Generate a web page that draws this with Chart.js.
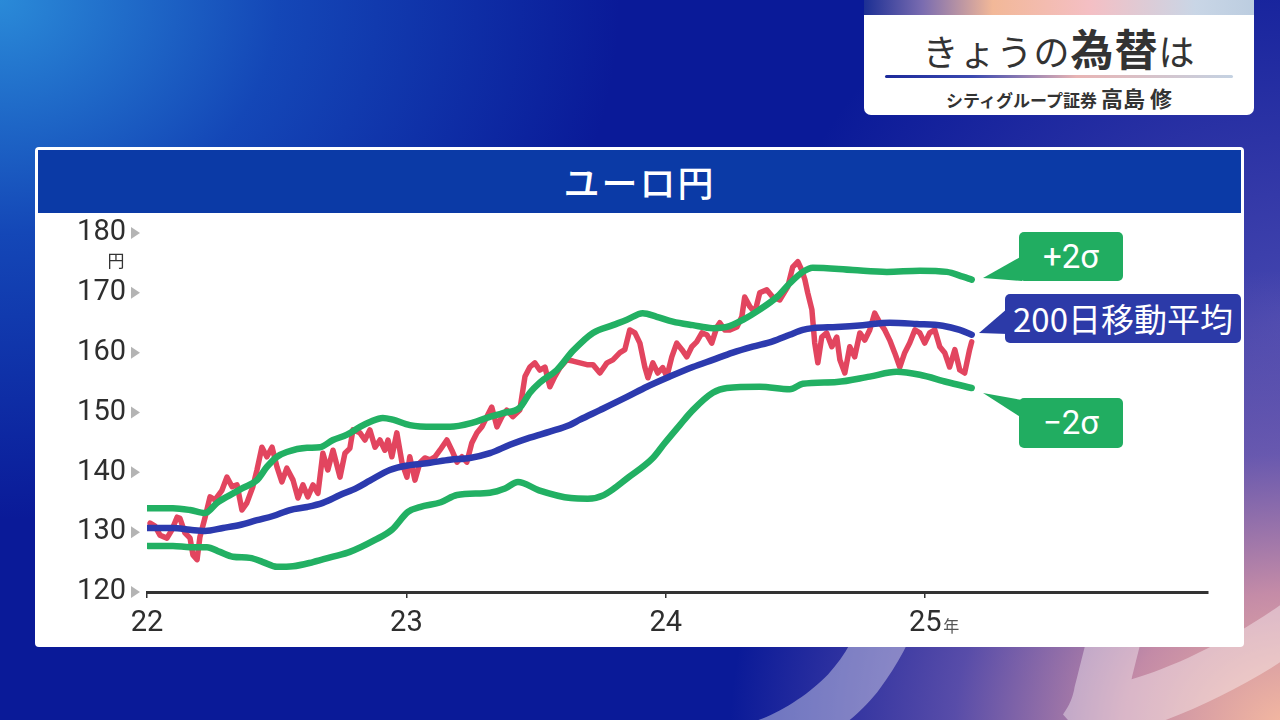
<!DOCTYPE html>
<html><head><meta charset="utf-8">
<script src="https://cdn.jsdelivr.net/npm/chart.js@4.4.1/dist/chart.umd.min.js"></script>
<style>
html,body{margin:0;padding:0;}
body{width:1280px;height:720px;overflow:hidden;position:relative;font-family:"Noto Sans CJK JP","Noto Sans",sans-serif;
background:
 radial-gradient(ellipse 560px 460px at 1290px 730px, rgba(246,186,160,1) 0%, rgba(214,150,168,0.9) 30%, rgba(140,110,180,0.6) 60%, rgba(10,26,150,0) 100%),
 radial-gradient(ellipse 520px 420px at 1290px 320px, rgba(110,100,190,0.6) 0%, rgba(10,26,150,0) 100%),
 radial-gradient(ellipse 620px 520px at 0px 0px, #2a8ad8 0%, rgba(24,90,196,0.7) 45%, rgba(10,26,150,0) 100%),
 #0a1a98;}
#wm{position:absolute;left:690px;top:420px;font-size:330px;font-weight:900;font-style:italic;color:rgba(255,255,255,0.38);letter-spacing:-20px;white-space:nowrap;line-height:1;}
#panel{position:absolute;left:35px;top:147px;width:1209px;height:500px;background:#fff;border-radius:4px;}
#ttl{position:absolute;left:38px;top:150px;width:1203px;height:63px;background:#0b3aa6;color:#fff;font-size:36px;font-weight:500;text-align:center;line-height:63px;letter-spacing:2px;}
#tr{position:absolute;left:864px;top:0;width:390px;height:115px;background:#fff;border-radius:0 0 7px 7px;overflow:hidden;}
#strip{position:absolute;left:0;top:0;width:390px;height:15px;background:linear-gradient(90deg,#1c2f94 0%,#7a6cb0 15%,#f2b898 33%,#f4bfc4 58%,#c9d6e6 85%,#bccde0 100%);}
#h1{position:absolute;left:0;top:22px;width:390px;text-align:center;color:#333;font-size:36px;line-height:50px;white-space:nowrap;letter-spacing:1px;}
#h1 b{font-size:43px;font-weight:700;}
#uline{position:absolute;left:21px;top:75px;width:348px;height:3px;border-radius:2px;background:linear-gradient(90deg,#1c2a9a 0%,#3a48b0 25%,#e8b4b4 55%,#c4d2e2 100%);}
#sub{position:absolute;left:0;top:82px;width:390px;text-align:center;color:#333;font-weight:700;font-size:17px;line-height:30px;white-space:nowrap;}
#sub span{font-size:22px;}
.co{position:absolute;color:#fff;text-align:center;border-radius:5px;white-space:nowrap;}
#cvs{position:absolute;left:0;top:0;}
svg{position:absolute;left:0;top:0;}
</style></head>
<body>
<div id="wm">テレ東</div>
<div id="panel"></div>
<div id="ttl">ユーロ円</div>
<div id="tr"><div id="strip"></div><div id="h1">きょうの<b>為替</b>は</div><div id="uline"></div><div id="sub">シティグループ証券 <span>高島 修</span></div></div>
<svg width="1280" height="720">
 <polygon points="1022,256 1022,281 983,278" fill="#21ad61"/>
 <polygon points="1008,308 1008,334 979,333" fill="#2c3aa8"/>
 <polygon points="1022,400 1022,418 983,393" fill="#21ad61"/>
</svg>
<div class="co" style="left:1019px;top:232px;width:104px;height:49px;background:#21ad61;font-size:33px;line-height:49px;font-family:Roboto,'Noto Sans',sans-serif;">+2σ</div>
<div class="co" style="left:1005px;top:294px;width:236px;height:49px;background:#2c3aa8;font-size:33px;line-height:49px;">200日移動平均</div>
<div class="co" style="left:1019px;top:398px;width:104px;height:50px;background:#21ad61;font-size:33px;line-height:50px;font-family:Roboto,'Noto Sans',sans-serif;">−2σ</div>
<canvas id="cvs" width="1280" height="720"></canvas>
<script>
// ---- data (x = decimal year, y = JPY per EUR) ----
const yearTicks = [2022, 2023, 2024, 2025];
const yearLabels = ['22', '23', '24', '25'];
const yTicks = [120, 130, 140, 150, 160, 170, 180];

const priceX = [2022.012,2022.031,2022.050,2022.077,2022.096,2022.116,2022.127,2022.146,2022.166,2022.177,2022.193,2022.204,2022.224,2022.243,2022.262,2022.289,2022.308,2022.328,2022.347,2022.366,2022.385,2022.408,2022.424,2022.443,2022.462,2022.482,2022.501,2022.520,2022.539,2022.563,2022.582,2022.601,2022.620,2022.640,2022.659,2022.678,2022.697,2022.717,2022.744,2022.763,2022.782,2022.794,2022.821,2022.840,2022.859,2022.879,2022.898,2022.917,2022.929,2022.944,2022.963,2022.983,2023.002,2023.013,2023.033,2023.052,2023.071,2023.091,2023.110,2023.129,2023.156,2023.175,2023.195,2023.214,2023.233,2023.252,2023.272,2023.291,2023.310,2023.329,2023.349,2023.368,2023.387,2023.410,2023.437,2023.457,2023.476,2023.495,2023.514,2023.534,2023.553,2023.572,2023.592,2023.618,2023.642,2023.669,2023.696,2023.719,2023.746,2023.773,2023.796,2023.823,2023.842,2023.861,2023.881,2023.900,2023.919,2023.931,2023.950,2023.969,2023.988,2024.004,2024.023,2024.042,2024.062,2024.081,2024.100,2024.119,2024.139,2024.158,2024.177,2024.197,2024.208,2024.227,2024.247,2024.274,2024.293,2024.304,2024.324,2024.343,2024.362,2024.389,2024.412,2024.439,2024.470,2024.489,2024.509,2024.524,2024.536,2024.547,2024.563,2024.574,2024.586,2024.601,2024.620,2024.640,2024.659,2024.671,2024.690,2024.709,2024.728,2024.748,2024.767,2024.786,2024.805,2024.825,2024.844,2024.863,2024.882,2024.902,2024.921,2024.940,2024.960,2024.979,2024.998,2025.017,2025.037,2025.056,2025.075,2025.094,2025.114,2025.133,2025.152,2025.171,2025.179];
const priceY = [131.5,131.0,129.5,129.0,130.4,132.5,132.3,129.9,129.0,126.2,125.4,129.2,132.5,135.9,135.4,137.0,139.2,137.6,137.9,133.7,134.9,137.6,140.4,144.2,142.6,144.2,140.9,138.4,140.7,138.7,135.7,137.9,135.9,137.9,136.5,143.2,140.4,143.7,139.2,143.2,144.0,147.1,146.6,145.4,147.1,144.2,145.4,143.7,145.4,142.6,146.6,141.6,139.2,142.6,138.7,141.6,142.4,142.1,142.6,143.7,145.4,143.7,141.7,142.6,141.7,144.9,146.6,147.6,149.3,150.9,147.6,149.3,150.4,149.3,150.4,156.0,157.6,158.3,157.1,157.6,154.3,156.0,157.5,158.8,158.6,158.3,158.0,158.0,156.6,158.3,158.8,160.0,160.5,163.8,163.3,161.6,157.6,155.8,158.3,156.6,157.5,156.0,159.3,161.6,160.5,159.3,161.0,161.8,163.3,163.0,161.6,164.3,165.0,163.8,163.8,164.3,166.0,169.3,167.7,166.7,170.0,170.5,169.3,168.8,171.0,174.3,175.2,173.8,172.2,170.0,167.2,161.6,158.3,162.6,163.3,161.0,162.6,158.8,156.6,161.0,159.3,163.3,162.1,163.8,166.6,165.0,163.8,162.1,160.0,157.6,160.0,161.6,163.8,163.3,161.6,163.3,163.8,161.0,160.0,157.6,160.5,157.1,156.6,160.5,161.8];

const maX = [2022.004,2022.100,2022.166,2022.224,2022.293,2022.358,2022.424,2022.486,2022.551,2022.617,2022.678,2022.744,2022.809,2022.859,2022.936,2023.013,2023.091,2023.168,2023.245,2023.322,2023.399,2023.476,2023.553,2023.630,2023.669,2023.746,2023.850,2023.927,2024.015,2024.104,2024.181,2024.258,2024.335,2024.412,2024.478,2024.528,2024.566,2024.659,2024.759,2024.863,2024.967,2025.067,2025.133,2025.179];
const maY = [130.7,130.7,130.4,130.2,130.7,131.2,132.0,132.7,133.7,134.2,134.9,136.2,137.4,138.6,140.4,141.2,141.6,142.1,142.4,143.2,144.6,145.8,146.8,147.9,148.8,150.4,152.6,154.3,156.0,157.6,158.8,160.0,161.0,161.9,163.0,163.8,164.1,164.3,164.6,165.0,164.8,164.5,163.8,163.0];

const upperX = [2022.004,2022.100,2022.166,2022.224,2022.270,2022.320,2022.370,2022.424,2022.462,2022.501,2022.539,2022.617,2022.667,2022.717,2022.771,2022.821,2022.859,2022.909,2022.948,2023.013,2023.102,2023.168,2023.256,2023.310,2023.372,2023.437,2023.476,2023.514,2023.580,2023.642,2023.719,2023.796,2023.850,2023.911,2023.965,2024.027,2024.104,2024.181,2024.235,2024.297,2024.362,2024.428,2024.478,2024.528,2024.566,2024.721,2024.852,2024.979,2025.083,2025.145,2025.179];
const upperY = [134.0,134.0,133.7,133.2,134.9,136.2,137.4,138.7,140.9,142.6,143.4,144.1,144.2,145.4,146.3,147.6,148.4,149.1,148.8,147.9,147.6,147.6,148.3,149.1,149.9,150.8,153.3,155.0,157.1,160.3,163.3,164.6,165.5,166.6,166.0,165.2,164.6,164.1,164.3,165.5,167.2,169.3,171.6,173.5,174.2,173.8,173.5,173.7,173.5,172.7,172.2];

const lowerX = [2022.004,2022.100,2022.166,2022.231,2022.281,2022.331,2022.397,2022.447,2022.501,2022.563,2022.640,2022.717,2022.782,2022.879,2022.944,2023.006,2023.052,2023.133,2023.195,2023.322,2023.380,2023.430,2023.511,2023.634,2023.699,2023.761,2023.857,2023.950,2023.996,2024.054,2024.104,2024.181,2024.235,2024.362,2024.478,2024.528,2024.659,2024.786,2024.890,2024.979,2025.083,2025.179];
const lowerY = [127.7,127.7,127.5,127.5,126.7,125.9,125.7,125.0,124.2,124.3,125.0,125.9,126.7,128.7,130.4,133.4,134.2,135.0,136.2,136.6,137.3,138.4,137.0,135.7,135.6,136.2,139.2,142.4,144.9,147.9,150.4,153.3,154.1,154.3,153.9,154.8,155.1,156.0,156.8,156.3,155.1,154.1];

const RED = '#e2455f', BLUE = '#2c3aae', GREEN = '#22b063';
const zip = (xs, ys) => xs.map((x, i) => ({x, y: ys[i]}));
const AX_FONT = {family: 'Roboto, "Noto Sans", sans-serif', size: 29};

const deco = {
  id: 'deco',
  afterDraw(chart) {
    const c = chart.ctx, ys = chart.scales.y, xs = chart.scales.x;
    c.save();
    c.fillStyle = '#b4b4b4';
    yTicks.forEach(v => {
      const p = ys.getPixelForValue(v);
      c.beginPath();
      c.moveTo(ys.right - 16, p - 6);
      c.lineTo(ys.right - 16, p + 6);
      c.lineTo(ys.right - 7, p);
      c.closePath();
      c.fill();
    });
    c.fillStyle = '#333';
    c.font = '17px "Noto Sans CJK JP", sans-serif';
    c.textAlign = 'center';
    c.textBaseline = 'middle';
    c.fillText('円', ys.right - 31, ys.getPixelForValue(180) + 28);
    c.fillStyle = '#555';
    c.textAlign = 'left';
    c.textBaseline = 'alphabetic';
    c.font = '16px "Noto Sans CJK JP", sans-serif';
    c.fillText('年', xs.getPixelForValue(yearTicks[3]) + 18, xs.top + 40);
    c.restore();
  }
};

new Chart(document.getElementById('cvs'), {
  type: 'line',
  data: {datasets: [
    {label: '+2σ', data: zip(upperX, upperY), borderColor: GREEN, borderWidth: 6.5, pointRadius: 0, cubicInterpolationMode: 'monotone', borderCapStyle: 'round', borderJoinStyle: 'round'},
    {label: '−2σ', data: zip(lowerX, lowerY), borderColor: GREEN, borderWidth: 6.5, pointRadius: 0, cubicInterpolationMode: 'monotone', borderCapStyle: 'round', borderJoinStyle: 'round'},
    {label: '200日移動平均', data: zip(maX, maY), borderColor: BLUE, borderWidth: 6.5, pointRadius: 0, cubicInterpolationMode: 'monotone', borderCapStyle: 'round'},
    {label: 'ユーロ円', data: zip(priceX, priceY), borderColor: RED, borderWidth: 5.5, pointRadius: 0, tension: 0, borderJoinStyle: 'round', borderCapStyle: 'round'}
  ]},
  options: {
    responsive: false, animation: false, events: [],
    layout: {padding: {left: 0, right: 72, top: 233, bottom: 0}},
    plugins: {legend: {display: false}, tooltip: {enabled: false}},
    scales: {
      x: {type: 'linear', min: 2022, max: 2026.09,
        afterBuildTicks: s => { s.ticks = yearTicks.map(v => ({value: v})); },
        afterFit: s => { s.height = 128; },
        ticks: {callback: (v) => yearLabels[yearTicks.indexOf(v)], font: AX_FONT, color: '#2e2e2e', padding: 8, maxRotation: 0, autoSkip: false},
        grid: {drawOnChartArea: false, tickLength: 6, color: '#333', lineWidth: 1.5},
        border: {color: '#333', width: 3}
      },
      y: {min: 120, max: 180,
        afterBuildTicks: s => { s.ticks = yTicks.map(v => ({value: v})); },
        afterFit: s => { s.width = 147; },
        ticks: {font: AX_FONT, color: '#2e2e2e', padding: 21},
        grid: {display: false, drawTicks: false},
        border: {display: false}
      }
    }
  },
  plugins: [deco]
});
</script>
</body></html>
